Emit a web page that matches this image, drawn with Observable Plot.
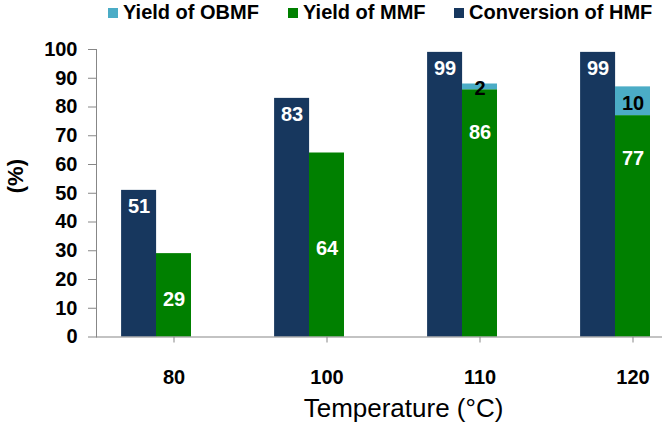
<!DOCTYPE html>
<html>
<head>
<meta charset="utf-8">
<script src="https://cdn.jsdelivr.net/npm/d3@7"></script>
<script src="https://cdn.jsdelivr.net/npm/@observablehq/plot@0.6"></script>
<style>
  html, body { margin: 0; padding: 0; background: #fff; }
  body { width: 666px; height: 424px; overflow: hidden; font-family: "Liberation Sans", Arial, sans-serif; }
  #legend { height: 24px; position: relative; font-weight: bold; font-size: 20px; color: #000; }
  #legend .item { position: absolute; top: 0; height: 24px; line-height: 24px; white-space: nowrap; }
  #legend .sw { display: inline-block; width: 10px; height: 10px; margin-right: 5px; vertical-align: 1px; }
  svg { display: block; }
</style>
</head>
<body>
<div id="legend"></div>
<div id="chart"></div>
<script>
const temperatures = ["80", "100", "110", "120"];
const conversionHMF = [51, 83, 99, 99];
const yieldMMF = [29, 64, 86, 77];
const yieldOBMF = [0, 0, 2, 10];
const seriesNames = ["Yield of OBMF", "Yield of MMF", "Conversion of HMF"];
const seriesColors = ["#4BACC6", "#008000", "#17375E"];
const yTicks = [0, 10, 20, 30, 40, 50, 60, 70, 80, 90, 100];
const xTitle = "Temperature (°C)";
const yTitle = "(%)";

const font = "'Liberation Sans', Arial, sans-serif";

// legend
const legendX = [108, 288, 454];
const legend = document.getElementById("legend");
seriesNames.forEach((name, i) => {
  const it = document.createElement("div");
  it.className = "item";
  it.style.left = legendX[i] + "px";
  const sw = document.createElement("span");
  sw.className = "sw";
  sw.style.background = seriesColors[i];
  it.appendChild(sw);
  it.appendChild(document.createTextNode(name));
  legend.appendChild(it);
});

const conv = temperatures.map((t, i) => ({temp: t, value: conversionHMF[i]}));
const stack = [];
temperatures.forEach((t, i) => {
  stack.push({temp: t, series: seriesNames[1], value: yieldMMF[i], mmf: yieldMMF[i], obmf: yieldOBMF[i]});
  stack.push({temp: t, series: seriesNames[0], value: yieldOBMF[i], mmf: yieldMMF[i], obmf: yieldOBMF[i]});
});
const mmfRows = stack.filter(d => d.series === seriesNames[1]);
const obmfRows = stack.filter(d => d.series === seriesNames[0] && d.value > 0);

const bw = 34.9;
const axisGray = "#878787";

const chart = Plot.plot({
  width: 666,
  height: 400,
  marginLeft: 96,
  marginRight: 4,
  marginTop: 25,
  marginBottom: 87.5,
  style: {fontFamily: font, background: "#fff", overflow: "visible"},
  x: {domain: temperatures, paddingInner: 0.772, paddingOuter: 0.233, align: 0.83, axis: null},
  y: {domain: [0, 100], axis: null},
  color: {domain: seriesNames, range: seriesColors},
  marks: [
    Plot.barY(conv, {x: "temp", y: "value", fill: seriesColors[2], dx: -bw}),
    Plot.barY(stack, {x: "temp", y: "value", fill: "series", order: [seriesNames[1], seriesNames[0]]}),
    Plot.ruleY([0], {stroke: axisGray, strokeWidth: 1}),
    Plot.frame({anchor: "left", stroke: axisGray}),
    Plot.axisY({ticks: yTicks, tickSize: 8, tickPadding: 11, stroke: axisGray, fontSize: 20, fontWeight: "bold", fill: "#000", label: null}),
    Plot.axisX({tickSize: 6, tickPadding: 27, stroke: axisGray, fontSize: 20, fontWeight: "bold", fill: "#000", label: null}),
    Plot.text(conv, {x: "temp", y: "value", text: d => String(d.value), dx: -bw, dy: 16, fill: "#fff", fontSize: 20, fontWeight: "bold", lineAnchor: "middle"}),
    Plot.text(mmfRows.filter(d => d.obmf === 0), {x: "temp", y: d => d.mmf / 2, dy: 4, text: d => String(d.mmf), fill: "#fff", fontSize: 20, fontWeight: "bold"}),
    Plot.text(mmfRows.filter(d => d.obmf > 0), {x: "temp", y: "mmf", dy: 43, text: d => String(d.mmf), fill: "#fff", fontSize: 20, fontWeight: "bold"}),
    Plot.text(obmfRows, {x: "temp", y: d => d.mmf + d.obmf / 2, text: d => String(d.obmf), fill: "#000", fontSize: 20, fontWeight: "bold", dy: 2}),
    Plot.text([xTitle], {frameAnchor: "bottom", dx: 24, dy: 72, text: d => d, fontSize: 26, fill: "#000", lineAnchor: "middle"}),
    Plot.text([yTitle], {frameAnchor: "left", dx: -81, rotate: -90, text: d => d, fontSize: 22, fontWeight: "bold", fill: "#000", lineAnchor: "middle"})
  ]
});
document.getElementById("chart").appendChild(chart);
</script>
</body>
</html>
